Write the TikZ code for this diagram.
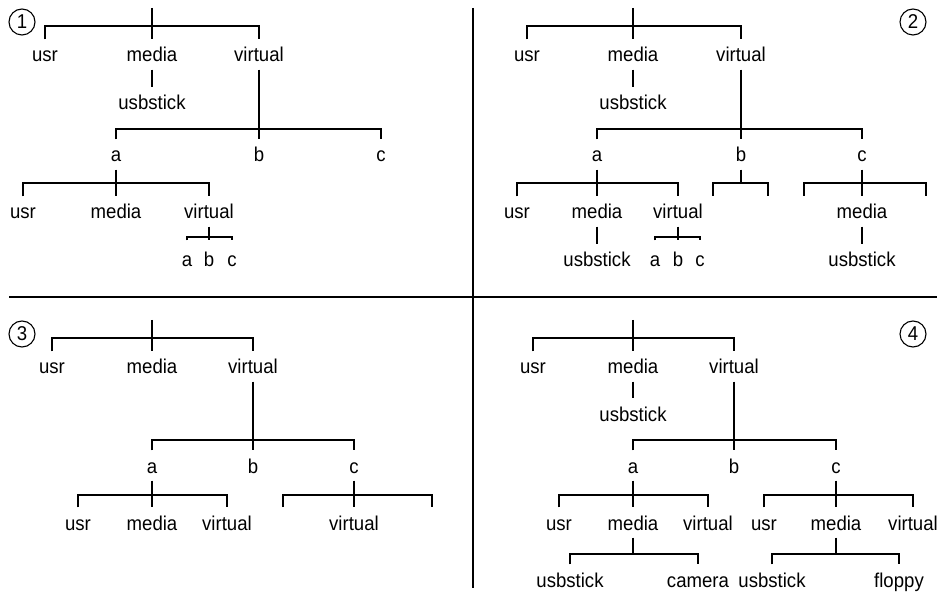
\documentclass[tikz,border=0pt]{standalone}
\usepackage{fontspec}
\setmainfont{Liberation Sans}[FakeStretch=0.93]
\tikzset{
	lbl/.style={inner xsep=0pt, inner ysep=7pt, text height=15pt, text depth=0pt, anchor=base},
	tiny/.style={lbl, inner ysep=11pt},
	num/.style={circle, draw, minimum size=26pt, inner sep=0pt}
}
\begin{document}
\begin{tikzpicture}[x=1pt, y=-1pt, line width=1.1pt, font=\fontsize{20}{24}\selectfont]
	\useasboundingbox (0,0) rectangle (940,593);
	\draw (473,8) -- (473,588);
	\draw (9,297) -- (937,297);
	% panel 1
	\node[num] (n1) at (22,22) {1};
	\coordinate (p1top) at (152,8);
	\coordinate (p1f0) at (152,26);
	\node[lbl] (p1usr) at (45,62) {usr};
	\node[lbl] (p1media) at (152,62) {media};
	\node[lbl] (p1virt) at (259,62) {virtual};
	\node[lbl] (p1stick) at (152,110) {usbstick};
	\coordinate (p1f1) at (259,129);
	\node[lbl] (p1a) at (116,162) {a};
	\node[lbl] (p1b) at (259,162) {b};
	\node[lbl] (p1c) at (381,162) {c};
	\coordinate (p1f2) at (116,183);
	\node[lbl] (p1ausr) at (23,219) {usr};
	\node[lbl] (p1amedia) at (116,219) {media};
	\node[lbl] (p1avirt) at (209,219) {virtual};
	\coordinate (p1f3) at (209,237);
	\node[tiny] (p1va) at (187,267) {a};
	\node[tiny] (p1vb) at (209,267) {b};
	\node[tiny] (p1vc) at (232,267) {c};
	\draw (p1top) -- (p1media.north);
	\draw (p1usr.north) |- (p1f0) -| (p1virt.north);
	\draw (p1media.south) -- (p1stick.north);
	\draw (p1virt.south) -- (p1b.north);
	\draw (p1a.north) |- (p1f1) -| (p1c.north);
	\draw (p1a.south) -- (p1amedia.north);
	\draw (p1ausr.north) |- (p1f2) -| (p1avirt.north);
	\draw (p1avirt.south) -- (p1vb.north);
	\draw (p1va.north) |- (p1f3) -| (p1vc.north);
	% panel 2
	\node[num] (n2) at (913,22) {2};
	\coordinate (p2top) at (633,8);
	\coordinate (p2f0) at (633,26);
	\node[lbl] (p2usr) at (527,62) {usr};
	\node[lbl] (p2media) at (633,62) {media};
	\node[lbl] (p2virt) at (741,62) {virtual};
	\node[lbl] (p2stick) at (633,110) {usbstick};
	\coordinate (p2f1) at (741,129);
	\node[lbl] (p2a) at (597,162) {a};
	\node[lbl] (p2b) at (741,162) {b};
	\node[lbl] (p2c) at (862,162) {c};
	\coordinate (p2f2) at (597,183);
	\node[lbl] (p2ausr) at (517,219) {usr};
	\node[lbl] (p2amedia) at (597,219) {media};
	\node[lbl] (p2avirt) at (678,219) {virtual};
	\node[lbl] (p2astick) at (597,267) {usbstick};
	\coordinate (p2f3) at (678,237);
	\node[tiny] (p2va) at (655,267) {a};
	\node[tiny] (p2vb) at (678,267) {b};
	\node[tiny] (p2vc) at (700,267) {c};
	\coordinate (p2bf) at (741,183);
	\coordinate (p2bl) at (713,196);
	\coordinate (p2br) at (768,196);
	\coordinate (p2cf) at (862,183);
	\coordinate (p2cl) at (804,196);
	\coordinate (p2cr) at (926,196);
	\node[lbl] (p2cmedia) at (862,219) {media};
	\node[lbl] (p2cstick) at (862,267) {usbstick};
	\draw (p2top) -- (p2media.north);
	\draw (p2usr.north) |- (p2f0) -| (p2virt.north);
	\draw (p2media.south) -- (p2stick.north);
	\draw (p2virt.south) -- (p2b.north);
	\draw (p2a.north) |- (p2f1) -| (p2c.north);
	\draw (p2a.south) -- (p2amedia.north);
	\draw (p2ausr.north) |- (p2f2) -| (p2avirt.north);
	\draw (p2amedia.south) -- (p2astick.north);
	\draw (p2avirt.south) -- (p2vb.north);
	\draw (p2va.north) |- (p2f3) -| (p2vc.north);
	\draw (p2b.south) -- (p2bf);
	\draw (p2bl) |- (p2bf) -| (p2br);
	\draw (p2c.south) -- (p2cmedia.north);
	\draw (p2cl) |- (p2cf) -| (p2cr);
	\draw (p2cmedia.south) -- (p2cstick.north);
	% panel 3
	\node[num] (n3) at (22,334) {3};
	\coordinate (p3top) at (152,320);
	\coordinate (p3f0) at (152,338);
	\node[lbl] (p3usr) at (52,374) {usr};
	\node[lbl] (p3media) at (152,374) {media};
	\node[lbl] (p3virt) at (253,374) {virtual};
	\coordinate (p3f1) at (253,440);
	\node[lbl] (p3a) at (152,473) {a};
	\node[lbl] (p3b) at (253,473) {b};
	\node[lbl] (p3c) at (354,473) {c};
	\coordinate (p3f2) at (152,495);
	\node[lbl] (p3ausr) at (78,530) {usr};
	\node[lbl] (p3amedia) at (152,530) {media};
	\node[lbl] (p3avirt) at (227,530) {virtual};
	\coordinate (p3cf) at (354,495);
	\coordinate (p3cl) at (283,507);
	\coordinate (p3cr) at (432,507);
	\node[lbl] (p3cvirt) at (354,530) {virtual};
	\draw (p3top) -- (p3media.north);
	\draw (p3usr.north) |- (p3f0) -| (p3virt.north);
	\draw (p3virt.south) -- (p3b.north);
	\draw (p3a.north) |- (p3f1) -| (p3c.north);
	\draw (p3a.south) -- (p3amedia.north);
	\draw (p3ausr.north) |- (p3f2) -| (p3avirt.north);
	\draw (p3c.south) -- (p3cvirt.north);
	\draw (p3cl) |- (p3cf) -| (p3cr);
	% panel 4
	\node[num] (n4) at (913,334) {4};
	\coordinate (p4top) at (633,320);
	\coordinate (p4f0) at (633,338);
	\node[lbl] (p4usr) at (533,374) {usr};
	\node[lbl] (p4media) at (633,374) {media};
	\node[lbl] (p4virt) at (734,374) {virtual};
	\node[lbl] (p4stick) at (633,421) {usbstick};
	\coordinate (p4f1) at (734,440);
	\node[lbl] (p4a) at (633,473) {a};
	\node[lbl] (p4b) at (734,473) {b};
	\node[lbl] (p4c) at (836,473) {c};
	\coordinate (p4f2) at (633,495);
	\node[lbl] (p4ausr) at (559,530) {usr};
	\node[lbl] (p4amedia) at (633,530) {media};
	\node[lbl] (p4avirt) at (708,530) {virtual};
	\coordinate (p4f3) at (633,554);
	\node[lbl] (p4astick) at (570,587) {usbstick};
	\node[lbl] (p4camera) at (698,587) {camera};
	\coordinate (p4cf) at (836,495);
	\node[lbl] (p4cusr) at (764,530) {usr};
	\node[lbl] (p4cmedia) at (836,530) {media};
	\node[lbl] (p4cvirt) at (913,530) {virtual};
	\coordinate (p4f4) at (836,554);
	\node[lbl] (p4cstick) at (772,587) {usbstick};
	\node[lbl] (p4floppy) at (899,587) {floppy};
	\draw (p4top) -- (p4media.north);
	\draw (p4usr.north) |- (p4f0) -| (p4virt.north);
	\draw (p4media.south) -- (p4stick.north);
	\draw (p4virt.south) -- (p4b.north);
	\draw (p4a.north) |- (p4f1) -| (p4c.north);
	\draw (p4a.south) -- (p4amedia.north);
	\draw (p4ausr.north) |- (p4f2) -| (p4avirt.north);
	\draw (p4amedia.south) -- (p4f3);
	\draw (p4astick.north) |- (p4f3) -| (p4camera.north);
	\draw (p4c.south) -- (p4cmedia.north);
	\draw (p4cusr.north) |- (p4cf) -| (p4cvirt.north);
	\draw (p4cmedia.south) -- (p4f4);
	\draw (p4cstick.north) |- (p4f4) -| (p4floppy.north);
\end{tikzpicture}
\end{document}
